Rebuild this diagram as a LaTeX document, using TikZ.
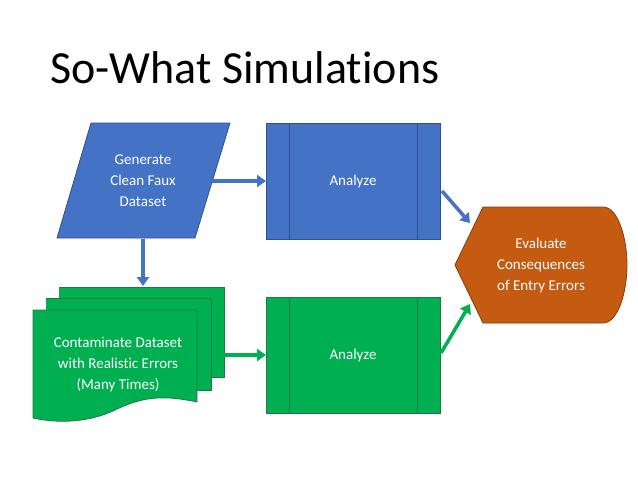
\documentclass[tikz,border=0pt]{standalone}
\usepackage{fontspec}
\setmainfont[Ligatures=NoCommon]{Carlito}
\usetikzlibrary{arrows.meta}
\definecolor{oblue}{HTML}{4472C4}
\definecolor{obluedk}{HTML}{2F528F}
\definecolor{ogreen}{HTML}{00B050}
\definecolor{ogreendk}{HTML}{1E7A45}
\definecolor{oorange}{HTML}{C55A11}
\definecolor{oorangedk}{HTML}{843C0C}
\tikzset{
  bluebox/.style={fill=oblue,draw=obluedk,line width=0.8pt},
  greenbox/.style={fill=ogreen,draw=ogreendk,line width=0.8pt},
  orangebox/.style={fill=oorange,draw=oorangedk,line width=0.8pt},
  lbl/.style={text=white,font=\fontsize{15}{21}\selectfont,align=center},
  bluearrow/.style={draw=oblue,line width=3.5pt,-{Triangle[length=9pt,width=12pt]}},
  greenarrow/.style={draw=ogreen,line width=3.5pt,-{Triangle[length=9pt,width=12pt]}},
}
\begin{document}
\begin{tikzpicture}[x=1pt,y=-1pt]
\useasboundingbox (0,0) rectangle (638,479);
% title
\node[anchor=base west,inner sep=0pt,font=\fontsize{46}{52}\selectfont] (title) at (50,83) {So-What Simulations};
% parallelogram
\draw[bluebox] (91,123) -- (230,123) -- (195,238) -- (57,238) -- cycle;
\node[lbl] (gen) at (143,181) {Generate\\Clean Faux\\Dataset};
% analyze top
\draw[bluebox] (266,123) rectangle (440,239);
\draw[obluedk,line width=0.8pt] (289,123) -- (289,239) (417,123) -- (417,239);
\node[lbl] (an1) at (353,181) {Analyze};
% analyze bottom
\draw[greenbox] (266,297) rectangle (440,413);
\draw[ogreendk,line width=0.8pt] (289,297) -- (289,413) (417,297) -- (417,413);
\node[lbl] (an2) at (353,355) {Analyze};
% multi document
\fill[ogreen] (59,287) rectangle (224,377);
\draw[ogreendk,line width=0.8pt] (59,287) -- (224,287) -- (224,377) -- (210,377);
\fill[ogreen] (46,298) rectangle (211,390);
\draw[ogreendk,line width=0.8pt] (46,298) -- (211,298) -- (211,390) -- (197,390);
\draw[greenbox] (33,310) -- (197,310) -- (197,402)
  .. controls (160,394) and (140,398) .. (115,410)
  .. controls (90,422) and (60,424) .. (33,418) -- cycle;
\node[lbl] (cont) at (118,365) {Contaminate Dataset\\with Realistic Errors\\(Many Times)};
% evaluate (display shape)
\draw[orangebox] (483,207) -- (603,207)
  .. controls (618,207) and (627,238) .. (627,265)
  .. controls (627,292) and (618,323) .. (603,323)
  -- (483,323) -- (455,265) -- cycle;
\node[lbl] (eval) at (541,265) {Evaluate\\Consequences\\of Entry Errors};
% connector coordinates
\coordinate (genR) at (212,181);
\coordinate (an1L) at (266,181);
\coordinate (genB) at (143,239);
\coordinate (docT) at (143,286);
\coordinate (an1R) at (442,191);
\coordinate (evTL) at (470,223);
\coordinate (docR) at (224,355);
\coordinate (an2L) at (266,355);
\coordinate (an2R) at (441,353);
\coordinate (evBL) at (470,304);
\draw[bluearrow] (genR) -- (an1L);
\draw[bluearrow] (genB) -- (docT);
\draw[bluearrow] (an1R) -- (evTL);
\draw[greenarrow] (docR) -- (an2L);
\draw[greenarrow] (an2R) -- (evBL);
\end{tikzpicture}
\end{document}
